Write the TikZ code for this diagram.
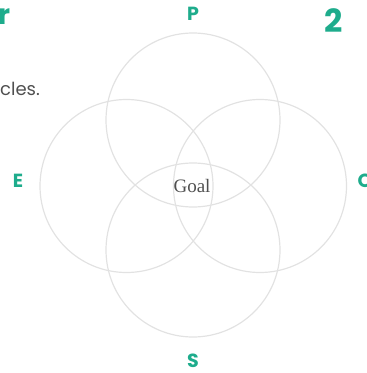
\documentclass[tikz,border=0pt]{standalone}
\usepackage{fontspec}
\setmainfont{Poppins}
\newfontfamily\goalfont{Liberation Serif}
\definecolor{teal1}{RGB}{30,172,140}
\definecolor{ringc}{RGB}{226,226,226}
\definecolor{greytext}{RGB}{80,80,80}
\begin{document}
\begin{tikzpicture}[x=1pt,y=-1pt,
  ring/.style={draw=ringc,line width=1.2pt},
  lett/.style={text=teal1,font=\fontsize{19}{21}\selectfont\bfseries,inner sep=0pt}]
\useasboundingbox (0,0) rectangle (367,373);
\draw[ring] (193,120) circle (87);
\draw[ring] (126.5,186) circle (86.5);
\draw[ring] (260,186) circle (86.5);
\draw[ring] (193,250) circle (87);
\node[inner sep=0pt,anchor=center] (goal) at (192,186) {\goalfont\fontsize{19}{21}\selectfont\color{greytext}Goal};
\node[lett] (p) at (193,14) {P};
\node[lett] (e) at (18,181) {E};
\node[lett] (o) at (365,181) {O};
\node[lett] (s) at (193,361) {S};
\node[inner sep=0pt,anchor=west,text=teal1,font=\fontsize{28}{30}\selectfont\bfseries] (r) at (-2,17) {r};
\node[inner sep=0pt,anchor=center,text=teal1,font=\fontsize{32}{34}\selectfont\bfseries] (two) at (334,21) {2};
\node[inner sep=0pt,anchor=west,text=greytext,font=\fontsize{18}{20}\selectfont] (cles) at (0,89) {cles.};
\end{tikzpicture}
\end{document}
